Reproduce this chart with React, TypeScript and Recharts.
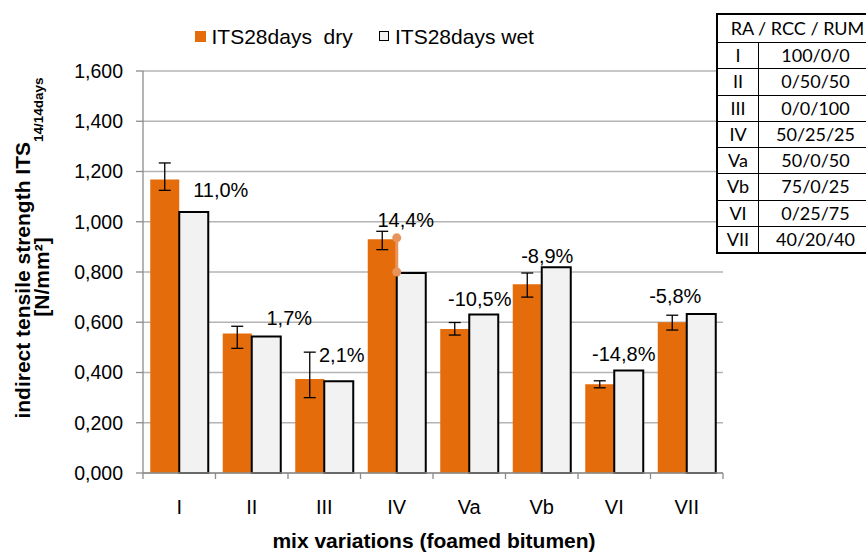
import React from "react";
import {
  Bar,
  BarChart,
  CartesianGrid,
  ErrorBar,
  Label,
  LabelList,
  Legend,
  ReferenceDot,
  ReferenceLine,
  XAxis,
  YAxis,
} from "recharts";

// mix variations
const categories = ["I", "II", "III", "IV", "Va", "Vb", "VI", "VII"];
// ITS 28 days dry / wet [N/mm²]
const dryValues = [1.168, 0.555, 0.374, 0.93, 0.573, 0.751, 0.353, 0.6];
const dryErrLow = [0.043, 0.059, 0.074, 0.041, 0.024, 0.051, 0.014, 0.031];
const dryErrHigh = [0.066, 0.029, 0.107, 0.032, 0.026, 0.045, 0.014, 0.028];
const wetValues = [1.039, 0.543, 0.365, 0.796, 0.631, 0.819, 0.408, 0.633];
const changeLabels = ["11,0%", "1,7%", "2,1%", "14,4%", "-10,5%", "-8,9%", "-14,8%", "-5,8%"];
const yTicks = [0, 0.2, 0.4, 0.6, 0.8, 1.0, 1.2, 1.4, 1.6];
// small marker drawn on mix IV
const markerCategory = "IV";
const markerTop = 0.936;
const markerBottom = 0.8;
// side table RA / RCC / RUM
const mixRatios = ["100/0/0", "0/50/50", "0/0/100", "50/25/25", "50/0/50", "75/0/25", "0/25/75", "40/20/40"];

// where each % label sits relative to the top centre of its wet bar
const labelShift: [number, number][] = [
  [27, -22], [23, -19], [3, -26], [-5.5, -53], [-4, -15], [-9, -11], [-5, -16], [-26, -18],
];

const data = categories.map((name, i) => ({
  name,
  dry: dryValues[i],
  dryErr: [dryErrLow[i], dryErrHigh[i]],
  wet: wetValues[i],
  change: changeLabels[i],
}));

const W = 866;
const H = 552;
const PLOT_LEFT = 143;
const PLOT_RIGHT = 143;
const PLOT_W = W - PLOT_LEFT - PLOT_RIGHT;
const BAND = PLOT_W / categories.length;

const ORANGE = "#E46C0A";
const WET = "#F2F2F2";
const AXIS = "#8c8c8c";
const GRID = "#b4b4b4";
const MARK = "#E8935A";
const FONT = "'Liberation Sans', Arial, sans-serif";

function CategoryTick(props: any) {
  const { x, y, payload, index } = props;
  const last = index === categories.length - 1;
  return (
    <g>
      <line x1={x - BAND / 2} x2={x - BAND / 2} y1={y} y2={y + 6} stroke={AXIS} strokeWidth={1.3} />
      {last && <line x1={x + BAND / 2} x2={x + BAND / 2} y1={y} y2={y + 6} stroke={AXIS} strokeWidth={1.3} />}
      <text x={x} y={y + 41} textAnchor="middle" fontSize={20} fill="#000" fontFamily={FONT}>
        {payload.value}
      </text>
    </g>
  );
}

function ChangeLabel(props: any) {
  const { x, y, width, value, index } = props;
  const [dx, dy] = labelShift[index] || [0, -12];
  return (
    <text x={x + width / 2 + dx} y={y + dy + 7} textAnchor="middle" fontSize={20} fill="#000" fontFamily={FONT}>
      {value}
    </text>
  );
}

function XTitle(props: any) {
  const vb = props.viewBox;
  return (
    <text x={vb.x + vb.width / 2 + 1} y={vb.y + 75} textAnchor="middle" fontSize={21} fontWeight="bold" fill="#000" fontFamily={FONT}>
      mix variations (foamed bitumen)
    </text>
  );
}

function YTitle(props: any) {
  const vb = props.viewBox;
  const cy = vb.y + vb.height / 2;
  return (
    <g fontFamily={FONT} fontWeight="bold" fill="#000">
      <text transform={`translate(30, ${cy - 24}) rotate(-90)`} textAnchor="middle" fontSize={21}>
        indirect tensile strength ITS
        <tspan fontSize={13.5} dy={13}>14/14days</tspan>
      </text>
      <text transform={`translate(49, ${cy + 5}) rotate(-90)`} textAnchor="middle" fontSize={21}>
        [N/mm²]
      </text>
    </g>
  );
}

function LegendContent() {
  const text: React.CSSProperties = {
    position: "absolute",
    top: 5.5,
    fontSize: 21,
    lineHeight: "21px",
    whiteSpace: "pre",
    color: "#000",
    fontFamily: FONT,
  };
  return (
    <div style={{ position: "relative", width: W, height: 51 }}>
      <span style={{ position: "absolute", left: 195, top: 10.5, width: 11, height: 11, background: ORANGE }} />
      <span style={{ ...text, left: 211.5 }}>ITS28days  dry</span>
      <span
        style={{
          position: "absolute",
          left: 379,
          top: 10.5,
          width: 8,
          height: 8,
          background: WET,
          border: "1.5px solid #000",
        }}
      />
      <span style={{ ...text, left: 395 }}>ITS28days wet</span>
    </div>
  );
}

function MixTable() {
  const row: React.CSSProperties = {
    display: "flex",
    height: 25.25,
    borderTop: "1.5px solid #000",
    lineHeight: "25px",
  };
  return (
    <div
      style={{
        position: "absolute",
        left: 716,
        top: 13,
        width: 200,
        border: "2.5px solid #000",
        fontFamily: "Lato, 'Open Sans', sans-serif",
        fontSize: 18,
        color: "#000",
        background: "#fff",
        boxSizing: "content-box",
      }}
    >
      <div style={{ height: 27, lineHeight: "27px", textAlign: "center", paddingRight: 41 }}>RA / RCC / RUM</div>
      {categories.map((c, i) => (
        <div key={c} style={row}>
          <div style={{ width: 40, borderRight: "1.5px solid #000", textAlign: "center" }}>{c}</div>
          <div style={{ flex: 1, textAlign: "center", paddingRight: 46 }}>{mixRatios[i]}</div>
        </div>
      ))}
    </div>
  );
}

export default function App() {
  return (
    <div
      style={{
        position: "absolute",
        left: 0,
        top: 0,
        width: W,
        height: H,
        background: "#fff",
        overflow: "hidden",
        fontFamily: FONT,
      }}
    >
      <BarChart
        width={W}
        height={H}
        data={data}
        margin={{ top: 20, right: PLOT_RIGHT, bottom: 0, left: 0 }}
        barCategoryGap="10%"
        barGap={0}
      >
        <Legend
          verticalAlign="top"
          height={51}
          wrapperStyle={{ left: 0, top: 20, width: W, height: 51 }}
          content={<LegendContent />}
        />
        <CartesianGrid vertical={false} stroke={GRID} strokeWidth={1.3} />
        <XAxis
          dataKey="name"
          height={79}
          interval={0}
          axisLine={{ stroke: AXIS, strokeWidth: 1.5 }}
          tickLine={false}
          tickSize={0}
          tickMargin={0}
          tick={<CategoryTick />}
        >
          <Label content={<XTitle />} />
        </XAxis>
        <YAxis
          width={PLOT_LEFT}
          domain={[0, 1.6]}
          ticks={yTicks}
          interval={0}
          tickSize={7}
          tickMargin={13}
          axisLine={{ stroke: AXIS, strokeWidth: 1.3 }}
          tickLine={{ stroke: AXIS, strokeWidth: 1.3 }}
          tick={{ fontSize: 19.5, fill: "#000", fontFamily: FONT }}
          tickFormatter={(v: number) => v.toFixed(3).replace(".", ",")}
        >
          <Label content={<YTitle />} />
        </YAxis>
        <Bar dataKey="dry" fill={ORANGE} isAnimationActive={false}>
          <ErrorBar dataKey="dryErr" width={6} stroke="#000" strokeWidth={1.3} direction="y" isAnimationActive={false} />
        </Bar>
        <Bar dataKey="wet" fill={WET} stroke="#000" strokeWidth={2} isAnimationActive={false}>
          <LabelList dataKey="change" content={<ChangeLabel />} />
        </Bar>
        <ReferenceLine
          segment={[
            { x: markerCategory, y: markerTop },
            { x: markerCategory, y: markerBottom },
          ]}
          stroke={MARK}
          strokeWidth={3}
        />
        <ReferenceDot x={markerCategory} y={markerTop} r={4.5} fill={MARK} stroke="none" />
        <ReferenceDot x={markerCategory} y={markerBottom} r={4.5} fill={MARK} stroke="none" />
      </BarChart>
      <MixTable />
    </div>
  );
}
